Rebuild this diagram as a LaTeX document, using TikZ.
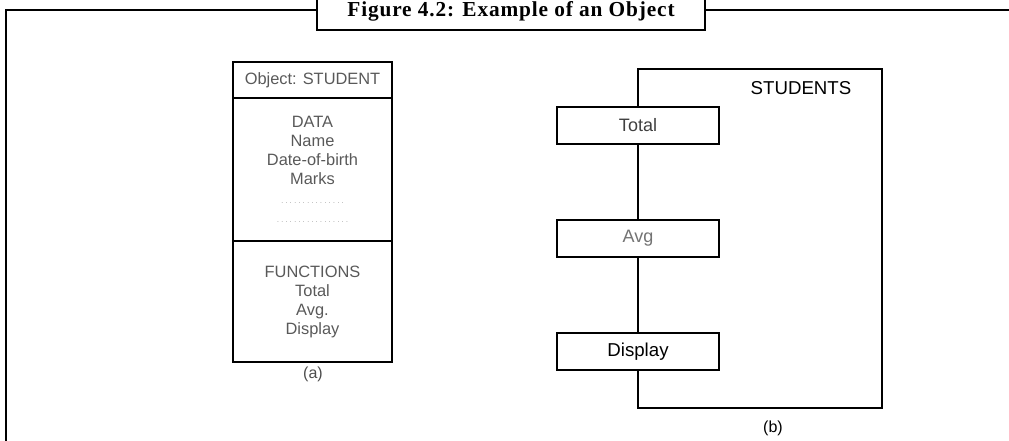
\documentclass[tikz,border=0pt]{standalone}
\usepackage{fontspec}
\setmainfont{Liberation Serif}
\setsansfont{Liberation Sans}
\newfontfamily\titlefont[LetterSpace=4]{Liberation Serif}

\begin{document}
\begin{tikzpicture}[
    x=0.75pt, y=-0.75pt,
    frame/.style={line width=1.9pt},
    part/.style={rectangle, draw, line width=1.2pt, minimum width=119.25pt, inner sep=0pt, align=center,
        font=\sffamily\fontsize{12.3}{14.25}\selectfont, text=black!65},
    method/.style={rectangle, draw, line width=1.2pt, fill=white, minimum width=121.5pt, minimum height=27.75pt,
        font=\sffamily\fontsize{13.5}{15}\selectfont},
    caption/.style={font=\sffamily\fontsize{12}{14}\selectfont, text=black!70}
]
\useasboundingbox (0,0) rectangle (1009,441);

% Cadre
\coordinate (fbl) at (6,441);
\coordinate (ftl) at (6,10);
\coordinate (ftr) at (1009,10);
\draw[frame] (fbl) -- (ftl) -- (ftr);
\node[draw, frame, fill=white, minimum width=291pt, minimum height=28.5pt,
    font=\titlefont\bfseries\fontsize{16}{18}\selectfont] (title) at (511,11) {Figure 4.2: Example of an Object};

% (a) objet
\node[part, minimum height=27pt] (head) at (312.5,80) {Object: STUDENT};
\node[part, minimum height=107.25pt] (data) at (312.5,169.5) {DATA\\Name\\Date-of-birth\\Marks\\
    {\color{black!50}\tiny . . . . . . . . . . . . . . .}\\{\color{black!50}\tiny . . . . . . . . . . . . . . . . .}};
\node[part, minimum height=90.75pt] (func) at (312.5,301.5) {FUNCTIONS\\Total\\Avg.\\Display};
\node[caption] (capa) at (313,374) {(a)};

% (b) classe
\coordinate (stl) at (638,69);
\coordinate (str) at (882,69);
\coordinate (sbr) at (882,408);
\coordinate (sbl) at (638,408);
\node[method, text=black!75] (total) at (638,125.5) {Total};
\node[method, text=black!55] (avg) at (638,238.5) {Avg};
\node[method, font=\sffamily\fontsize{14}{16}\selectfont] (disp) at (638,351.5) {Display};
\node[font=\sffamily\fontsize{14}{16}\selectfont] (students) at (801,88) {STUDENTS};
\node[caption, text=black] (capb) at (773,428) {(b)};

\draw[line width=1.2pt] (total.north) -- (stl) -- (str) -- (sbr) -- (sbl) -- (disp.south);
\draw[line width=1.2pt] (total) -- (avg);
\draw[line width=1.2pt] (avg) -- (disp);

\end{tikzpicture}
\end{document}
